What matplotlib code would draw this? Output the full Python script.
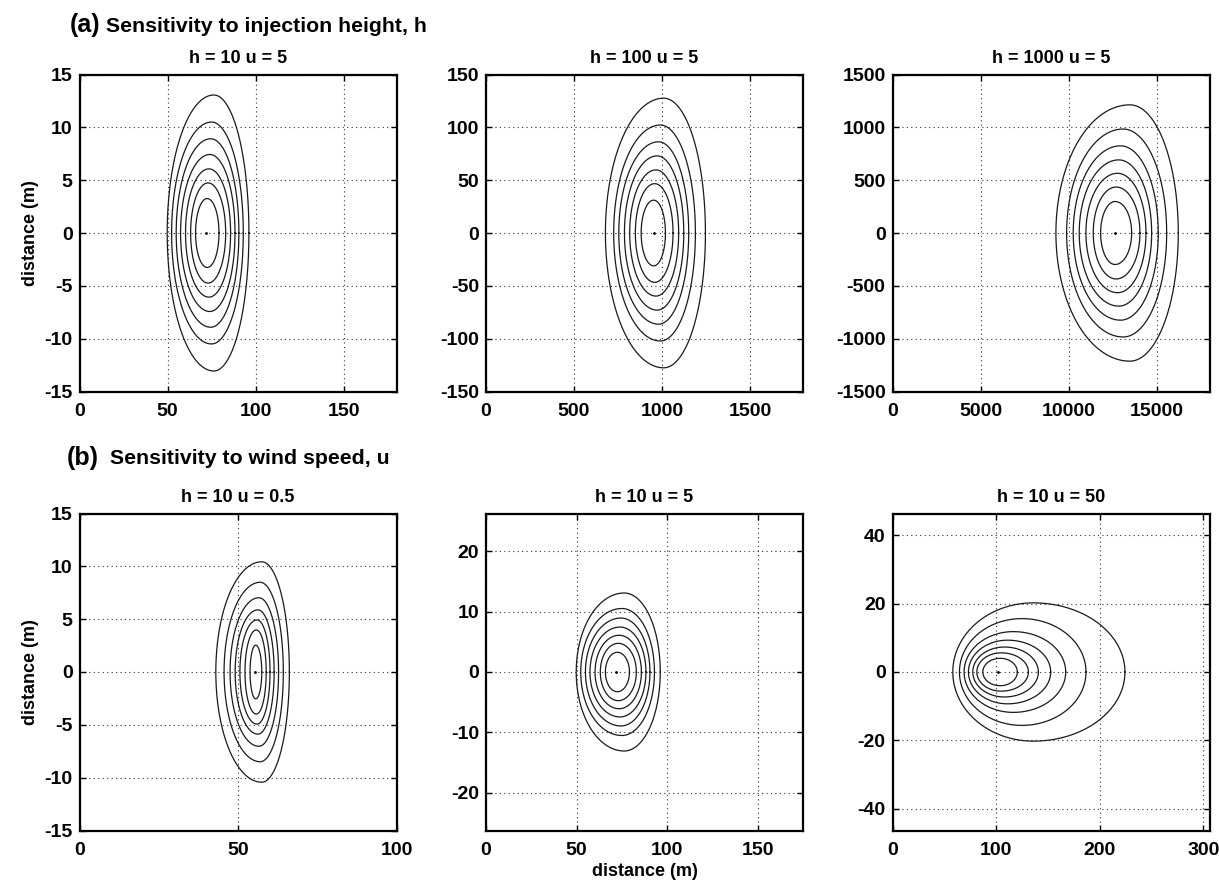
import numpy as np
import matplotlib.pyplot as plt

plt.rcParams['font.family'] = ['Liberation Sans', 'DejaVu Sans']
plt.rcParams['font.weight'] = 'bold'
plt.rcParams['axes.unicode_minus'] = False

# contour rings: left edge, x of top, right edge, half-height
# h = 10, u = 5 (used in both rows)
h10u5_left = [49.8, 52.3, 54.9, 57.4, 60.2, 63.1, 65.9]
h10u5_peak = [76.3, 75.0, 74.5, 74.0, 73.5, 73.0, 72.5]
h10u5_right = [96.2, 93.0, 90.5, 88.3, 85.8, 83.0, 79.2]
h10u5_half = [13.06, 10.5, 8.92, 7.43, 6.07, 4.74, 3.26]
h10u5_src = 72.0

h100_left = [678, 725, 754, 786, 816, 848, 881]
h100_peak = [1009, 990, 980, 972, 965, 958, 952]
h100_right = [1246, 1189, 1151, 1123, 1094, 1062, 1019]
h100_half = [127.6, 102.2, 86.3, 73.0, 59.7, 46.7, 31.1]
h100_src = 952

h1000_left = [9278, 9886, 10261, 10602, 10983, 11398, 11818]
h1000_peak = [13480, 13100, 12950, 12850, 12780, 12700, 12640]
h1000_right = [16227, 15568, 15091, 14716, 14392, 14051, 13580]
h1000_half = [1213, 984, 825, 692, 565, 435, 298]
h1000_src = 12630

u05_left = [43.0, 45.6, 47.5, 49.1, 50.6, 52.2, 53.8]
u05_peak = [57.5, 57.0, 56.6, 56.3, 56.0, 55.8, 55.6]
u05_right = [66.2, 64.3, 62.8, 61.4, 60.1, 58.9, 57.5]
u05_half = [10.43, 8.49, 7.03, 5.88, 4.93, 3.98, 2.54]
u05_src = 55.4

u50_left = [58.2, 64.6, 69.1, 73.3, 77.5, 81.4, 87.2]
u50_peak = [136, 124.8, 116.7, 111, 108, 105, 104]
u50_right = [224.4, 186.8, 167.2, 152.7, 140.8, 131.2, 120.5]
u50_half = [20.2, 15.6, 11.8, 9.3, 7.3, 5.6, 4.0]
u50_src = 102.2

titles = ['h = 10 u = 5', 'h = 100 u = 5', 'h = 1000 u = 5',
          'h = 10 u = 0.5', 'h = 10 u = 5', 'h = 10 u = 50']
rings = [(h10u5_left, h10u5_peak, h10u5_right, h10u5_half, h10u5_src),
         (h100_left, h100_peak, h100_right, h100_half, h100_src),
         (h1000_left, h1000_peak, h1000_right, h1000_half, h1000_src),
         (u05_left, u05_peak, u05_right, u05_half, u05_src),
         (h10u5_left, h10u5_peak, h10u5_right, h10u5_half, h10u5_src),
         (u50_left, u50_peak, u50_right, u50_half, u50_src)]
xlims = [(0, 180), (0, 1800), (0, 18000), (0, 100), (0, 175), (0, 306)]
ylims = [(-15, 15), (-150, 150), (-1500, 1500), (-15, 15), (-26.2, 26.2), (-46.3, 46.3)]
xticks = [[0, 50, 100, 150], [0, 500, 1000, 1500], [0, 5000, 10000, 15000],
          [0, 50, 100], [0, 50, 100, 150], [0, 100, 200, 300]]
yticks = [np.arange(-15, 16, 5), np.arange(-150, 151, 50), np.arange(-1500, 1501, 500),
          np.arange(-15, 16, 5), np.arange(-20, 21, 10), np.arange(-40, 41, 20)]


def ring(xl, xp, xr, hh):
    # two quarter ellipses joined at the top, mirrored about y = 0
    t = np.linspace(0, 2 * np.pi, 300)
    c = np.cos(t)
    x = xp + np.where(c >= 0, c * (xr - xp), c * (xp - xl))
    return x, hh * np.sin(t)


fig = plt.figure(figsize=(12.19, 8.86), dpi=100)
W, H = 1219, 886
lefts = [79.5, 486, 892.5]
tops = [74.5, 513.5]
size = 317

for i in range(6):
    r, c = divmod(i, 3)
    ax = fig.add_axes([lefts[c] / W, 1 - (tops[r] + size) / H, size / W, size / H])
    xl, xp, xr, hh, src = rings[i]
    for k in range(len(xl)):
        x, y = ring(xl[k], xp[k], xr[k], hh[k])
        ax.plot(x, y, color='#1a1a1a', lw=0.9)
    ax.plot([src], [0], marker='.', ms=2, color='k')
    ax.set_xlim(*xlims[i])
    ax.set_ylim(*ylims[i])
    ax.set_xticks(xticks[i])
    ax.set_yticks(yticks[i])
    ax.grid(True, color='#333333', ls=(0, (1, 3)), lw=0.8)
    ax.tick_params(direction='in', top=True, right=True, length=4, width=1,
                   labelsize=14)
    ax.tick_params(axis='x', pad=8)
    ax.tick_params(axis='y', pad=5)
    for s in ax.spines.values():
        s.set_linewidth(1.6)
    ax.set_title(titles[i], fontsize=13, fontweight='bold', pad=8)
    if c == 0:
        ax.set_ylabel('distance (m)', fontsize=13, fontweight='bold', labelpad=4)
    if i == 4:
        ax.set_xlabel('distance (m)', fontsize=13, fontweight='bold', labelpad=3)

fig.text(70 / W, 1 - 25 / H, '(a)', fontsize=18, fontweight='bold', va='center')
fig.text(106 / W, 1 - 26 / H, 'Sensitivity to injection height, h', fontsize=15.3,
         fontweight='bold', va='center')
fig.text(67 / W, 1 - 458 / H, '(b)', fontsize=18, fontweight='bold', va='center')
fig.text(110 / W, 1 - 459 / H, 'Sensitivity to wind speed, u', fontsize=15.3,
         fontweight='bold', va='center')

fig.savefig('out.png', dpi=100)
